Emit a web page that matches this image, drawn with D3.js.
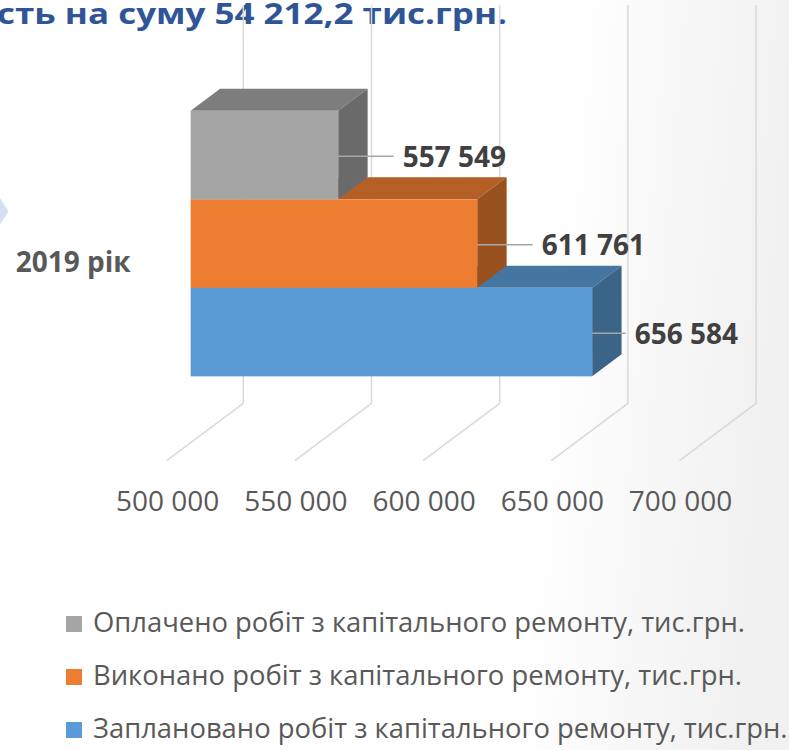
<!DOCTYPE html>
<html>
<head>
<meta charset="utf-8">
<script src="https://cdn.jsdelivr.net/npm/d3@7"></script>
<style>
  html, body { margin: 0; padding: 0; background: #fff; }
  svg { display: block; font-family: 'Open Sans', sans-serif; }
</style>
</head>
<body>
<svg id="chart" width="789" height="750"></svg>
<script>
// chart values
var titleText = 'сть на суму 54 212,2 тис.грн.';
var categories = ['2019 рік'];
var seriesNames = [
    'Оплачено робіт з капітального ремонту, тис.грн.',
    'Виконано робіт з капітального ремонту, тис.грн.',
    'Заплановано робіт з капітального ремонту, тис.грн.'
];
var seriesValues = [557549, 611761, 656584];
var seriesColors = ['#A5A5A5', '#ED7D31', '#5B9BD5'];
var tickValues = [500000, 550000, 600000, 650000, 700000];

var svg = d3.select('#chart');
var W = +svg.attr('width'), H = +svg.attr('height');

var locale = d3.formatLocale({ decimal: ',', thousands: '\u00a0', grouping: [3], currency: ['', ''] });
var fmt = locale.format(',');

// background: white with a soft grey sheen at the right edge
var defs = svg.append('defs');
var grad = defs.append('linearGradient').attr('id', 'bg')
    .attr('x1', '0').attr('y1', '0').attr('x2', '1').attr('y2', '0.08');
grad.append('stop').attr('offset', '0.72').attr('stop-color', '#ffffff');
grad.append('stop').attr('offset', '1').attr('stop-color', '#f1f1f1');
svg.append('rect').attr('width', W).attr('height', H).attr('fill', 'url(#bg)');

// small slide decoration at left
svg.append('path')
    .attr('d', 'M0,198L8.5,211.5L0,225Z')
    .attr('fill', '#D6E0F1');

// title (cut by the slide edge)
svg.append('text')
    .attr('x', 507).attr('y', 23.5)
    .attr('text-anchor', 'end')
    .attr('textLength', 510).attr('lengthAdjust', 'spacingAndGlyphs')
    .style('font-size', '29px').style('font-weight', 700)
    .style('fill', '#2F5597')
    .text(titleText);

// 3d projection parameters
var floorFrontY = 460.7;
var depthDx = 76.6, depthDy = -57.4;
var wallHeight = 398.3;
var depthFront = 0.313, depthBack = 0.697;

var x = d3.scaleLinear()
    .domain([tickValues[0], tickValues[tickValues.length - 1]])
    .range([166.7, 679.5]);

var catScale = d3.scaleBand().domain(categories).range([0, wallHeight]).paddingOuter(0.25);

function px(v, t) { return x(v) + t * depthDx; }
function py(h, t) { return floorFrontY + t * depthDy - h; }

// gridlines: floor diagonal + back wall vertical
var gridG = svg.append('g');
gridG.selectAll('polyline')
    .data(tickValues)
    .enter()
    .append('polyline')
    .attr('points', function (d) {
        return [[px(d, 0), py(0, 0)], [px(d, 1), py(0, 1)], [px(d, 1), py(wallHeight, 1)]].join(' ');
    })
    .attr('fill', 'none')
    .attr('stroke', '#D9D9D9')
    .attr('stroke-width', 1.5);

// tick labels
svg.append('g').selectAll('text')
    .data(tickValues)
    .enter()
    .append('text')
    .attr('x', function (d) { return px(d, 0) + 1; })
    .attr('y', 510.5)
    .attr('text-anchor', 'middle')
    .style('font-size', '28px')
    .style('fill', '#595959')
    .text(fmt);

// category label
svg.append('g').selectAll('text')
    .data(categories)
    .enter()
    .append('text')
    .attr('x', px(tickValues[0], 0) - 36)
    .attr('y', function (d) { return py(catScale(d) + catScale.bandwidth() / 2, 0); })
    .attr('dy', '0.36em')
    .attr('text-anchor', 'end')
    .style('font-size', '28px').style('font-weight', 700)
    .style('fill', '#595959')
    .text(function (d) { return d; });

// bars
var cat = categories[0];
var inner = d3.scaleBand().domain(seriesNames)
    .range([catScale(cat) + catScale.bandwidth(), catScale(cat)]);

var bars = seriesNames.map(function (name, i) {
    return { name: name, value: seriesValues[i], color: seriesColors[i],
        h0: inner(name), h1: inner(name) + inner.bandwidth() };
});

function shade(c, k) {
    var rgb = d3.rgb(c);
    return d3.rgb(rgb.r * k, rgb.g * k, rgb.b * k).formatHex();
}

var barG = svg.append('g');
// draw from bottom bar upward so upper side faces overlap lower top faces
bars.slice().reverse().forEach(function (b) {
    var v0 = tickValues[0];
    var g = barG.append('g');
    g.append('polygon')
        .attr('points', [
            [px(v0, depthFront), py(b.h1, depthFront)],
            [px(b.value, depthFront), py(b.h1, depthFront)],
            [px(b.value, depthBack), py(b.h1, depthBack)],
            [px(v0, depthBack), py(b.h1, depthBack)]
        ].join(' '))
        .attr('fill', shade(b.color, 0.76));
    g.append('polygon')
        .attr('points', [
            [px(b.value, depthFront), py(b.h1, depthFront)],
            [px(b.value, depthBack), py(b.h1, depthBack)],
            [px(b.value, depthBack), py(b.h0, depthBack)],
            [px(b.value, depthFront), py(b.h0, depthFront)]
        ].join(' '))
        .attr('fill', shade(b.color, 0.645));
    g.append('rect')
        .attr('x', px(v0, depthFront))
        .attr('y', py(b.h1, depthFront))
        .attr('width', px(b.value, depthFront) - px(v0, depthFront))
        .attr('height', py(b.h0, depthFront) - py(b.h1, depthFront))
        .attr('fill', b.color);
});

// data labels with leader lines
var labelG = svg.append('g');
bars.forEach(function (b) {
    var lineY = py((b.h0 + b.h1) / 2, depthFront) + 1.2;
    var x0 = px(b.value, depthFront);
    var t = labelG.append('text')
        .attr('y', lineY)
        .attr('dy', '0.37em')
        .style('font-size', '28px').style('font-weight', 700)
        .style('fill', '#404040')
        .text(fmt(b.value));
    var tw = t.node().getComputedTextLength();
    var x1 = Math.min(px(b.value, depthBack) + 26, 738 - tw - 9);
    t.attr('x', x1 + 9);
    labelG.append('line')
        .attr('x1', x0).attr('x2', x1)
        .attr('y1', lineY).attr('y2', lineY)
        .attr('stroke', '#A6A6A6').attr('stroke-width', 1.5);
});

// legend
var legend = svg.append('g').selectAll('g')
    .data(bars)
    .enter()
    .append('g')
    .attr('transform', function (d, i) { return 'translate(66,' + (632 + i * 53) + ')'; });

legend.append('rect')
    .attr('x', 0).attr('y', -16)
    .attr('width', 16).attr('height', 16)
    .attr('fill', function (d) { return d.color; });

legend.append('text')
    .attr('x', 27).attr('y', 0)
    .style('font-size', '27.4px')
    .style('fill', '#595959')
    .text(function (d) { return d.name; });
</script>
</body>
</html>
